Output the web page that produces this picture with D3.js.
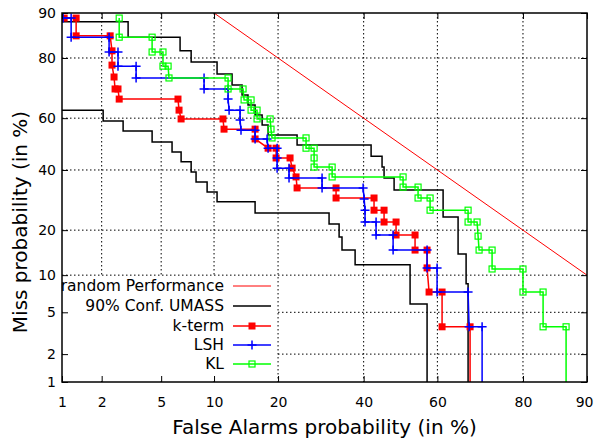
<!DOCTYPE html>
<html>
<head>
<meta charset="utf-8">
<script src="https://cdn.jsdelivr.net/npm/d3@7"></script>
<style>
  html, body { margin: 0; padding: 0; background: #fff; }
  svg { display: block; font-family: "DejaVu Sans", sans-serif; }
</style>
</head>
<body>
<svg id="chart" width="594" height="446"></svg>
<script>
// ---------- data (percent) ----------
const tickValues = [1, 2, 5, 10, 20, 40, 60, 80, 90];
const tickLabels = ["1", "2", "5", "10", "20", "40", "60", "80", "90"];

const randomFA   = [10, 20, 40, 60, 80, 90];
const randomMiss = [90, 80, 60, 40, 20, 10];

const umassUpFA   = [1.0, 3.06, 3.06, 6.49, 6.49, 7.51, 7.51, 10.37, 10.37, 12.35, 12.35, 13.81, 13.81, 14.73, 14.73, 15.88, 15.88, 17.08, 17.08, 18.14, 18.14, 23.86, 23.86, 41.99, 41.99, 44.95, 44.95, 45.50, 45.50, 48.24, 48.24, 61.51, 61.51, 65.38, 65.38, 67.39, 67.39, 67.88, 67.88];
const umassUpMiss = [88.4, 88.4, 85.2, 85.2, 81.9, 81.9, 78.9, 78.9, 75.3, 75.3, 71.8, 71.8, 68.4, 68.4, 64.9, 64.9, 61.2, 61.2, 57.4, 57.4, 53.5, 53.5, 49.6, 49.6, 45.3, 45.3, 41.1, 41.1, 37.0, 37.0, 32.7, 32.7, 23.8, 23.8, 14.1, 14.1, 8.6, 8.6, 0.01];

const umassLoFA   = [1.0, 2.05, 2.05, 2.83, 2.83, 4.39, 4.39, 5.82, 5.82, 6.58, 6.58, 7.51, 7.51, 8.00, 8.00, 9.19, 9.19, 10.37, 10.37, 15.88, 15.88, 31.17, 31.17, 33.65, 33.65, 34.38, 34.38, 37.75, 37.75, 52.62, 52.62, 57.24, 57.24];
const umassLoMiss = [63.0, 63.0, 58.9, 58.9, 55.1, 55.1, 50.8, 50.8, 46.9, 46.9, 43.1, 43.1, 39.2, 39.2, 35.5, 35.5, 32.0, 32.0, 28.6, 28.6, 25.0, 25.0, 21.7, 21.7, 18.2, 18.2, 15.0, 15.0, 11.9, 11.9, 5.9, 5.9, 0.01];

const ktermFA   = [1.04, 1.29, 1.29, 2.30, 2.37, 2.37, 2.45, 2.49, 2.61, 2.66, 6.31, 6.40, 6.58, 11.12, 11.26, 15.88, 15.88, 18.14, 19.63, 19.63, 22.39, 22.81, 23.64, 23.86, 32.89, 32.89, 42.78, 42.78, 45.50, 45.50, 48.78, 48.78, 53.98, 53.98, 57.24, 57.24, 57.78, 61.24, 61.24, 68.37, 68.37];
const ktermMiss = [89.1, 89.1, 85.5, 85.5, 81.9, 78.0, 74.4, 70.5, 70.5, 67.0, 67.0, 63.0, 59.7, 59.7, 55.8, 55.8, 52.0, 48.4, 48.4, 44.6, 44.6, 40.7, 37.4, 33.4, 33.4, 29.9, 29.9, 25.9, 25.9, 22.3, 22.3, 18.7, 18.7, 15.0, 15.0, 11.3, 7.4, 7.4, 3.7, 3.7, 0.01];

const lshFA   = [1.02, 1.18, 1.18, 2.26, 2.26, 2.61, 2.61, 3.46, 3.46, 8.85, 8.85, 11.80, 11.80, 11.94, 13.51, 13.51, 13.65, 15.88, 15.88, 17.96, 18.14, 19.82, 19.82, 19.82, 22.18, 22.18, 29.49, 29.49, 39.86, 40.13, 40.37, 40.37, 43.33, 43.33, 47.97, 47.97, 57.24, 57.24, 59.92, 59.92, 67.88, 68.13, 71.25, 71.25];
const lshMiss = [89.1, 89.1, 85.2, 85.2, 81.6, 81.6, 77.7, 77.7, 74.1, 74.1, 70.5, 70.5, 67.0, 63.0, 63.0, 59.3, 55.4, 55.4, 52.0, 52.0, 48.4, 48.4, 44.6, 40.7, 40.7, 37.0, 37.0, 33.4, 33.4, 29.6, 25.9, 22.3, 22.3, 18.7, 18.7, 15.0, 15.0, 11.3, 11.3, 7.4, 7.4, 3.7, 3.7, 0.01];

const klFA   = [2.66, 2.66, 4.39, 4.39, 5.13, 5.13, 5.51, 5.58, 11.80, 11.80, 13.96, 14.12, 15.22, 15.22, 16.21, 16.21, 18.51, 18.67, 18.86, 25.81, 25.81, 27.63, 27.63, 27.63, 31.92, 31.92, 50.70, 50.70, 54.80, 54.80, 58.05, 58.05, 67.88, 67.88, 70.06, 70.30, 70.54, 73.54, 73.54, 80.0, 80.0, 83.64, 83.64, 87.24, 87.24];
const klMiss = [89.1, 85.2, 85.2, 81.6, 81.6, 77.7, 77.7, 74.1, 74.1, 70.5, 70.5, 66.7, 66.7, 63.0, 63.0, 59.7, 59.7, 55.8, 52.4, 52.4, 48.4, 48.4, 44.6, 41.1, 41.1, 37.4, 37.4, 33.7, 33.7, 29.9, 29.9, 25.9, 25.9, 22.3, 22.3, 18.4, 15.0, 15.0, 11.1, 11.1, 7.4, 7.4, 3.7, 3.7, 0.01];

const legendLabels = ["random Performance", "90% Conf. UMASS", "k-term", "LSH", "KL"];

// ---------- normal deviate (probit) ----------
function probit(p) {
  const a = [-3.969683028665376e+01, 2.209460984245205e+02, -2.759285104469687e+02, 1.383577518672690e+02, -3.066479806614716e+01, 2.506628277459239e+00];
  const b = [-5.447609879822406e+01, 1.615858368580409e+02, -1.556989798598866e+02, 6.680131188771972e+01, -1.328068155288572e+01];
  const c = [-7.784894002430293e-03, -3.223964580411365e-01, -2.400758277161838e+00, -2.549732539343734e+00, 4.374664141464968e+00, 2.938163982698783e+00];
  const d = [7.784695709041462e-03, 3.224671290700398e-01, 2.445134137142996e+00, 3.754408661907416e+00];
  const plow = 0.02425, phigh = 1 - plow;
  let q, r;
  if (p < plow) {
    q = Math.sqrt(-2 * Math.log(p));
    return (((((c[0]*q+c[1])*q+c[2])*q+c[3])*q+c[4])*q+c[5]) / ((((d[0]*q+d[1])*q+d[2])*q+d[3])*q+1);
  }
  if (p > phigh) {
    q = Math.sqrt(-2 * Math.log(1 - p));
    return -(((((c[0]*q+c[1])*q+c[2])*q+c[3])*q+c[4])*q+c[5]) / ((((d[0]*q+d[1])*q+d[2])*q+d[3])*q+1);
  }
  q = p - 0.5; r = q * q;
  return (((((a[0]*r+a[1])*r+a[2])*r+a[3])*r+a[4])*r+a[5])*q / (((((b[0]*r+b[1])*r+b[2])*r+b[3])*r+b[4])*r+1);
}

// ---------- layout ----------
const L = 62, R = 587, T = 13, B = 382;
const svg = d3.select("#chart");

const xLin = d3.scaleLinear().domain([probit(0.01), probit(0.90)]).range([L, R]);
const yLin = d3.scaleLinear().domain([probit(0.01), probit(0.90)]).range([B, T]);
const x = v => xLin(probit(v / 100));
const y = v => yLin(probit(v / 100));
const tickZ = tickValues.map(v => probit(v / 100));

svg.append("defs").append("clipPath").attr("id", "plotclip")
  .append("rect").attr("x", L).attr("y", T).attr("width", R - L).attr("height", B - T);

// ---------- grid ----------
const grid = svg.append("g").attr("stroke", "#000").attr("stroke-width", 1)
  .attr("stroke-dasharray", "1.5,2.5");
tickZ.slice(1, -1).forEach(z => {
  grid.append("line").attr("x1", xLin(z)).attr("x2", xLin(z)).attr("y1", T).attr("y2", B);
  grid.append("line").attr("y1", yLin(z)).attr("y2", yLin(z)).attr("x1", L).attr("x2", R);
});

// ---------- series ----------
const plot = svg.append("g").attr("clip-path", "url(#plotclip)");
const line = d3.line().x(d => x(d[0])).y(d => y(d[1]));
const zip = (a, b) => a.map((v, i) => [v, b[i]]);

plot.append("path").datum(zip(randomFA, randomMiss)).attr("d", line)
  .attr("fill", "none").attr("stroke", "#ff0000").attr("stroke-width", 1);
plot.append("path").datum(zip(umassUpFA, umassUpMiss)).attr("d", line)
  .attr("fill", "none").attr("stroke", "#000").attr("stroke-width", 1.5);
plot.append("path").datum(zip(umassLoFA, umassLoMiss)).attr("d", line)
  .attr("fill", "none").attr("stroke", "#000").attr("stroke-width", 1.5);

function series(fa, miss, color, marker) {
  const data = zip(fa, miss);
  plot.append("path").datum(data).attr("d", line)
    .attr("fill", "none").attr("stroke", color).attr("stroke-width", 1.5);
  const g = plot.append("g");
  data.forEach(d => drawMarker(g, x(d[0]), y(d[1]), color, marker));
}
function drawMarker(g, cx, cy, color, marker) {
  if (marker === "fsquare") {
    g.append("rect").attr("x", cx - 3.5).attr("y", cy - 3.5).attr("width", 7).attr("height", 7).attr("fill", color);
  } else if (marker === "plus") {
    g.append("path").attr("d", `M${cx-4.5},${cy}H${cx+4.5}M${cx},${cy-4.5}V${cy+4.5}`)
      .attr("stroke", color).attr("stroke-width", 1.5).attr("fill", "none");
  } else if (marker === "osquare") {
    g.append("rect").attr("x", cx - 3).attr("y", cy - 3).attr("width", 6).attr("height", 6)
      .attr("fill", "none").attr("stroke", color).attr("stroke-width", 1.2);
  }
}
series(ktermFA, ktermMiss, "#ff0000", "fsquare");
series(lshFA, lshMiss, "#0000ff", "plus");
series(klFA, klMiss, "#00ff00", "osquare");

// ---------- legend background ----------
svg.append("rect").attr("x", L + 1).attr("y", 277).attr("width", 277 - L - 1).attr("height", B - 277 - 1).attr("fill", "#fff");

// ---------- axes ----------
const fmt = (d, i) => tickLabels[i];
const axB = svg.append("g").attr("transform", `translate(0,${B})`)
  .call(d3.axisBottom(xLin).tickValues(tickZ).tickFormat(fmt).tickSizeInner(-6).tickSizeOuter(0).tickPadding(15));
const axL = svg.append("g").attr("transform", `translate(${L},0)`)
  .call(d3.axisLeft(yLin).tickValues(tickZ).tickFormat(fmt).tickSizeInner(-6).tickSizeOuter(0).tickPadding(6));
const axT = svg.append("g").attr("transform", `translate(0,${T})`)
  .call(d3.axisTop(xLin).tickValues(tickZ).tickFormat("").tickSizeInner(-6).tickSizeOuter(0));
const axR = svg.append("g").attr("transform", `translate(${R},0)`)
  .call(d3.axisRight(yLin).tickValues(tickZ).tickFormat("").tickSizeInner(-6).tickSizeOuter(0));
[axB, axL, axT, axR].forEach(a => {
  a.select(".domain").remove();
  a.selectAll("line").attr("stroke", "#000").attr("stroke-width", 1);
  a.selectAll("text").attr("font-size", 14).attr("fill", "#000").attr("font-family", "DejaVu Sans");
});
// keep the last bottom label inside the canvas
axB.selectAll(".tick text").filter((d, i) => i === tickValues.length - 1)
  .attr("text-anchor", "end").attr("x", 6);
svg.append("rect").attr("x", L).attr("y", T).attr("width", R - L).attr("height", B - T)
  .attr("fill", "none").attr("stroke", "#000").attr("stroke-width", 1.5);

// ---------- titles ----------
svg.append("text").attr("x", (L + R) / 2).attr("y", 434).attr("text-anchor", "middle")
  .attr("font-size", 20).text("False Alarms probability (in %)");
svg.append("text").attr("transform", "translate(27,222) rotate(-90)").attr("text-anchor", "middle")
  .attr("font-size", 20).text("Miss probability (in %)");

// ---------- legend ----------
const legColors = ["#ff0000", "#000", "#ff0000", "#0000ff", "#00ff00"];
const legMarkers = [null, null, "fsquare", "plus", "osquare"];
const legY = [286, 306, 326, 345, 364];
const leg = svg.append("g");
legendLabels.forEach((lab, i) => {
  leg.append("text").attr("x", 224).attr("y", legY[i]).attr("dy", "0.35em")
    .attr("text-anchor", "end").attr("font-size", 15.5).text(lab);
  leg.append("line").attr("x1", 233).attr("x2", 271).attr("y1", legY[i]).attr("y2", legY[i])
    .attr("stroke", legColors[i]).attr("stroke-width", i === 0 ? 1 : 1.5);
  if (legMarkers[i]) drawMarker(leg, 252, legY[i], legColors[i], legMarkers[i]);
});
</script>
</body>
</html>
